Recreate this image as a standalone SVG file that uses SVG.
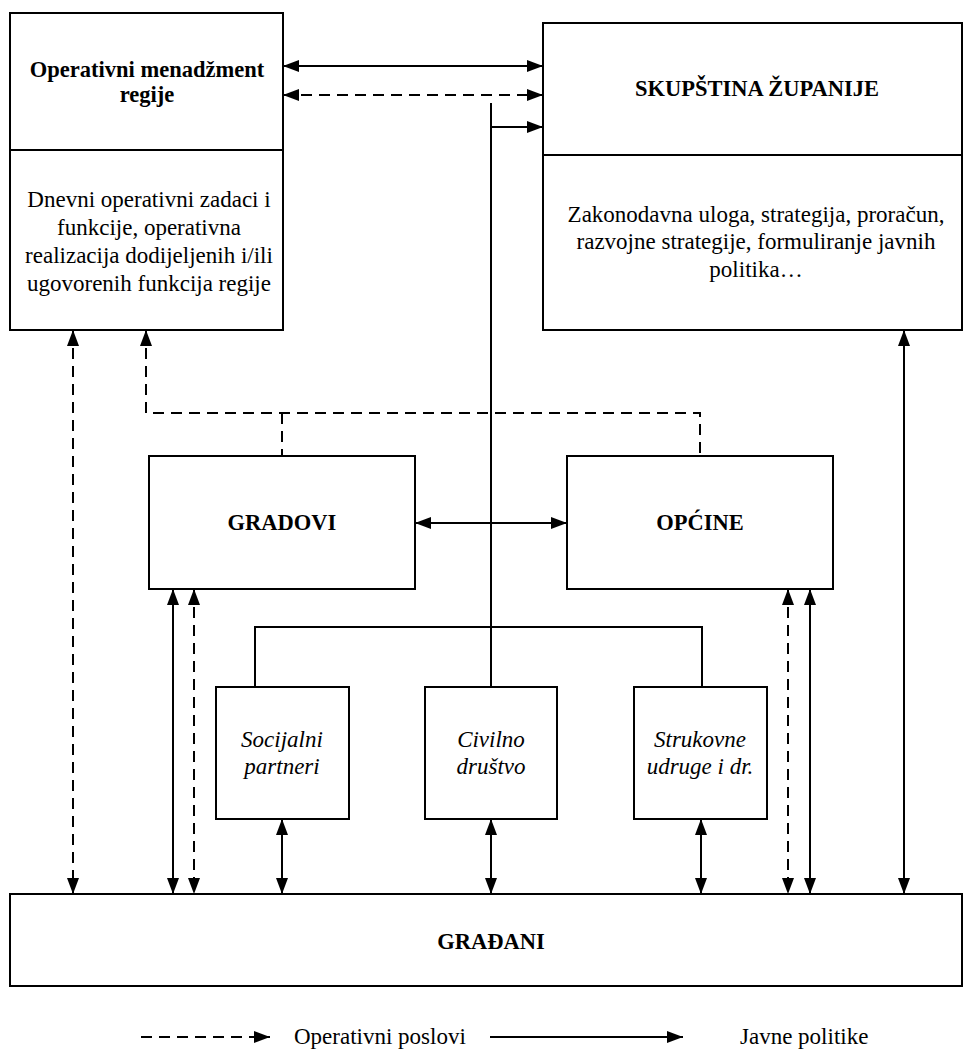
<svg xmlns="http://www.w3.org/2000/svg" width="964" height="1049" viewBox="0 0 964 1049">
<style>
.box{fill:#fff;stroke:#000;stroke-width:2}
.ln{fill:none;stroke:#000;stroke-width:2}
.ds{stroke-dasharray:11 7}
text{font-family:"Liberation Serif","Times New Roman",Times,"Nimbus Roman","Nimbus Roman No9 L",FreeSerif,"DejaVu Serif","Noto Serif",serif;font-size:23px;fill:#000;text-anchor:middle}
.b{font-weight:bold;font-size:22.5px}
.i{font-style:italic}
.l{text-anchor:start}
</style>
<defs>
<marker id="ah" markerUnits="userSpaceOnUse" markerWidth="16" markerHeight="12" refX="16" refY="6" orient="auto-start-reverse" viewBox="0 0 16 12">
<path d="M0,0 L16,6 L0,12 z" fill="#000"/>
</marker>
</defs>
<rect width="964" height="1049" fill="#fff"/>
<g id="connectors">
<line class="ln" x1="283" y1="66" x2="543" y2="66" marker-start="url(#ah)" marker-end="url(#ah)"/>
<line class="ln ds" x1="283" y1="95" x2="543" y2="95" marker-start="url(#ah)" marker-end="url(#ah)"/>
<line class="ln" x1="491" y1="103" x2="491" y2="687"/>
<line class="ln" x1="491" y1="127" x2="543" y2="127" marker-end="url(#ah)"/>
<line class="ln" x1="415" y1="523" x2="567" y2="523" marker-start="url(#ah)" marker-end="url(#ah)"/>
<path class="ln ds" d="M146,330 L146,413 L700,413 L700,456" marker-start="url(#ah)"/>
<line class="ln ds" x1="282" y1="413" x2="282" y2="456"/>
<line class="ln ds" x1="73" y1="330" x2="73" y2="894" marker-start="url(#ah)" marker-end="url(#ah)"/>
<line class="ln" x1="173" y1="589" x2="173" y2="894" marker-start="url(#ah)" marker-end="url(#ah)"/>
<line class="ln ds" x1="194" y1="589" x2="194" y2="894" marker-start="url(#ah)" marker-end="url(#ah)"/>
<line class="ln" x1="282" y1="819" x2="282" y2="894" marker-start="url(#ah)" marker-end="url(#ah)"/>
<line class="ln" x1="491" y1="819" x2="491" y2="894" marker-start="url(#ah)" marker-end="url(#ah)"/>
<line class="ln" x1="701" y1="819" x2="701" y2="894" marker-start="url(#ah)" marker-end="url(#ah)"/>
<line class="ln ds" x1="788" y1="589" x2="788" y2="894" marker-start="url(#ah)" marker-end="url(#ah)"/>
<line class="ln" x1="810" y1="589" x2="810" y2="894" marker-start="url(#ah)" marker-end="url(#ah)"/>
<line class="ln" x1="904" y1="330" x2="904" y2="894" marker-start="url(#ah)" marker-end="url(#ah)"/>
<path class="ln" d="M255,687 L255,627 L702,627 L702,687"/>
</g>
<g id="operativni">
<rect class="box" x="10" y="13" width="273" height="317"/>
<line class="ln" x1="10" y1="150" x2="283" y2="150"/>
<text class="b" x="147" y="77">Operativni menadžment</text>
<text class="b" x="147" y="102">regije</text>
<text x="149" y="207">Dnevni operativni zadaci i</text>
<text x="149" y="235">funkcije, operativna</text>
<text x="149" y="263">realizacija dodijeljenih i/ili</text>
<text x="149" y="291">ugovorenih funkcija regije</text>
</g>
<g id="skupstina">
<rect class="box" x="543" y="23" width="419" height="307"/>
<line class="ln" x1="543" y1="155" x2="962" y2="155"/>
<text class="b" x="757" y="96">SKUPŠTINA ŽUPANIJE</text>
<text x="756" y="222">Zakonodavna uloga, strategija, proračun,</text>
<text x="756" y="249">razvojne strategije, formuliranje javnih</text>
<text x="756" y="277">politika…</text>
</g>
<g id="gradovi">
<rect class="box" x="149" y="456" width="266" height="133"/>
<text class="b" x="282" y="530">GRADOVI</text>
</g>
<g id="opcine">
<rect class="box" x="567" y="456" width="266" height="133"/>
<text class="b" x="700" y="530">OPĆINE</text>
</g>
<g id="socijalni">
<rect class="box" x="216" y="687" width="133" height="132"/>
<text class="i" x="282" y="747">Socijalni</text>
<text class="i" x="282" y="774">partneri</text>
</g>
<g id="civilno">
<rect class="box" x="425" y="687" width="132" height="132"/>
<text class="i" x="491" y="747">Civilno</text>
<text class="i" x="491" y="774">društvo</text>
</g>
<g id="strukovne">
<rect class="box" x="634" y="687" width="133" height="132"/>
<text class="i" x="700" y="747">Strukovne</text>
<text class="i" x="700" y="774">udruge i dr.</text>
</g>
<g id="gradani">
<rect class="box" x="10" y="894" width="952" height="92"/>
<text class="b" x="491" y="949">GRAĐANI</text>
</g>
<g id="legend">
<line class="ln ds" x1="141" y1="1037" x2="270" y2="1037" marker-end="url(#ah)"/>
<text class="l" x="294" y="1044">Operativni poslovi</text>
<line class="ln" x1="490" y1="1037" x2="683" y2="1037" marker-end="url(#ah)"/>
<text class="l" x="740" y="1044">Javne politike</text>
</g>
</svg>
